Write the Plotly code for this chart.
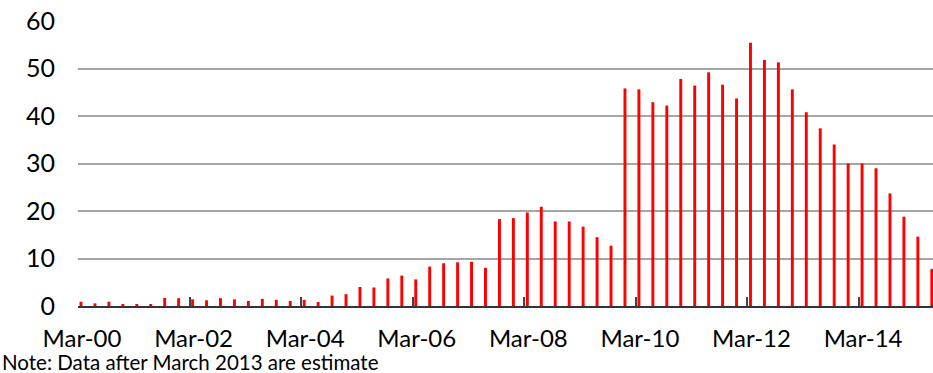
import plotly.graph_objects as go

# Quarterly values, March 2000 through June 2015
quarters = [f"{m}-{y:02d}" for y in range(0, 16) for m in ("Mar", "Jun", "Sep", "Dec")][:62]
values = [
    0.9, 0.55, 0.9, 0.4, 0.4, 0.4, 1.7, 1.65,
    1.4, 1.2, 1.65, 1.4, 1.05, 1.5, 1.3, 1.05,
    1.3, 0.85, 2.2, 2.5, 4.0, 3.9, 5.8, 6.4,
    5.6, 8.3, 9.0, 9.2, 9.3, 8.05, 18.3, 18.5,
    19.7, 20.9, 17.8, 17.8, 16.7, 14.5, 12.7, 45.8,
    45.6, 42.9, 42.2, 47.8, 46.4, 49.2, 46.6, 43.7,
    55.4, 51.8, 51.3, 45.6, 40.8, 37.4, 34.0, 30.0,
    30.0, 29.0, 23.7, 18.8, 14.6, 7.8,
]
tick_labels = ["Mar-00", "Mar-02", "Mar-04", "Mar-06", "Mar-08", "Mar-10", "Mar-12", "Mar-14"]
y_ticks = [0, 10, 20, 30, 40, 50, 60]

FONT = "Lato"
idx = list(range(len(values)))

fig = go.Figure(
    go.Bar(
        x=idx,
        y=values,
        customdata=quarters,
        width=0.21,
        offset=0.11,
        marker=dict(color="#ff0000", line=dict(width=0)),
        hovertemplate="%{customdata}: %{y}<extra></extra>",
    )
)

fig.update_layout(
    width=933,
    height=373,
    margin=dict(l=78, r=0, t=21, b=67),
    paper_bgcolor="white",
    plot_bgcolor="white",
    showlegend=False,
    font=dict(family=FONT, color="#000000"),
    xaxis=dict(
        range=[0, 61.3],
        tickmode="array",
        tickvals=[8 * k for k in range(len(tick_labels))],
        ticktext=tick_labels,
        ticks="inside",
        ticklen=9,
        tickwidth=1.5,
        tickcolor="#444444",
        showgrid=False,
        zeroline=False,
        showline=True,
        linecolor="#333333",
        linewidth=1.5,
        tickfont=dict(size=24, family=FONT),
        ticklabelstandoff=10,
        ticklabelshift=4,
    ),
    yaxis=dict(
        range=[0, 60],
        tickmode="array",
        tickvals=y_ticks,
        ticktext=[str(v) for v in y_ticks],
        showgrid=True,
        gridcolor="#a6a6a6",
        gridwidth=1.5,
        zeroline=False,
        showline=False,
        ticks="",
        tickfont=dict(size=25, family=FONT),
        ticklabelstandoff=22,
    ),
)

fig.add_annotation(
    text="Note: Data after March 2013 are estimate",
    xref="paper", yref="paper",
    x=0, y=0,
    xanchor="left", yanchor="bottom",
    xshift=-78, yshift=-70,
    showarrow=False,
    font=dict(size=20.5, family=FONT, color="#000000"),
)

fig.write_html("out.html")
